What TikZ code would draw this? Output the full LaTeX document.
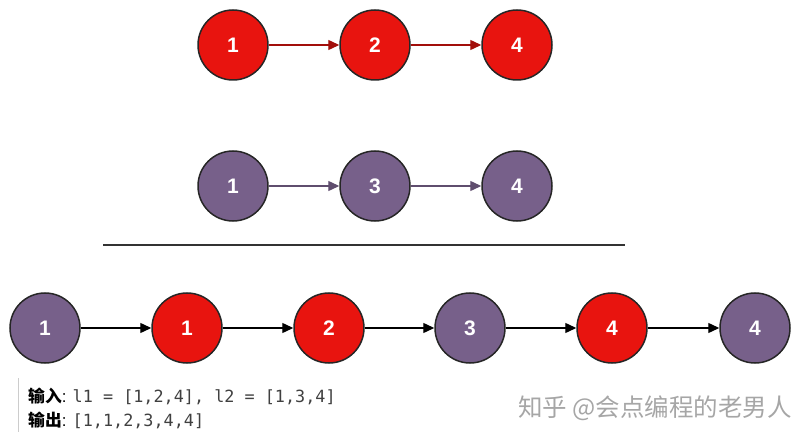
\documentclass[tikz,border=0pt]{standalone}
\usepackage{fontspec}
\setmainfont{Liberation Sans}
\newfontfamily\cjk{Noto Sans CJK SC}
\setmonofont{DejaVu Sans Mono}
\usetikzlibrary{arrows.meta}
\definecolor{rd}{HTML}{E8140F}
\definecolor{pu}{HTML}{77608A}
\begin{document}
\begin{tikzpicture}[x=1pt,y=-1pt,
 n/.style={circle,minimum size=70pt,inner sep=0pt,line width=1.5pt,draw=black!85,text=white,font=\fontsize{21}{21}\selectfont\bfseries},
 r/.style={n,fill=rd},p/.style={n,fill=pu},
 a/.style={-{Triangle[length=11pt,width=10pt]},line width=1.4pt}]
\useasboundingbox (0,0) rectangle (812,441);
\node[r] (t1) at (233,45) {1};
\node[r] (t2) at (375,45) {2};
\node[r] (t3) at (517,45) {4};
\node[p] (m1) at (233,186) {1};
\node[p] (m2) at (375,186) {3};
\node[p] (m3) at (517,186) {4};
\draw[a,draw=rd!70!black] (t1)--(t2); \draw[a,draw=rd!70!black] (t2)--(t3);
\draw[a,draw=pu!80!black] (m1)--(m2); \draw[a,draw=pu!80!black] (m2)--(m3);
\coordinate (l1) at (103,245); \coordinate (l2) at (625,245);
\draw[line width=1.5pt,black!80] (l1)--(l2);
\node[p] (b1) at (45,328) {1};
\node[r] (b2) at (187,328) {1};
\node[r] (b3) at (329,328) {2};
\node[p] (b4) at (470,328) {3};
\node[r] (b5) at (612,328) {4};
\node[p] (b6) at (755,328) {4};
\foreach \i/\j in {b1/b2,b2/b3,b3/b4,b4/b5,b5/b6} \draw[a,black] (\i)--(\j);
\coordinate (g1) at (18,378); \coordinate (g2) at (18,432);
\draw[line width=1pt,black!20] (g1)--(g2);
\node[anchor=west,inner sep=0pt,font=\fontsize{16.8}{16.8}\selectfont] (i1) at (28,396) {{\cjk\bfseries 输入}: \textcolor{black!75}{\ttfamily l1 = [1,2,4], l2 = [1,3,4]}};
\node[anchor=west,inner sep=0pt,font=\fontsize{16.8}{16.8}\selectfont] (i2) at (28,420) {{\cjk\bfseries 输出}: \textcolor{black!75}{\ttfamily [1,1,2,3,4,4]}};
\node[anchor=west,inner sep=0pt,text=black!35,font=\cjk\fontsize{24.5}{24.5}\selectfont] (w) at (518,408) {知乎 @会点编程的老男人};
\end{tikzpicture}
\end{document}
